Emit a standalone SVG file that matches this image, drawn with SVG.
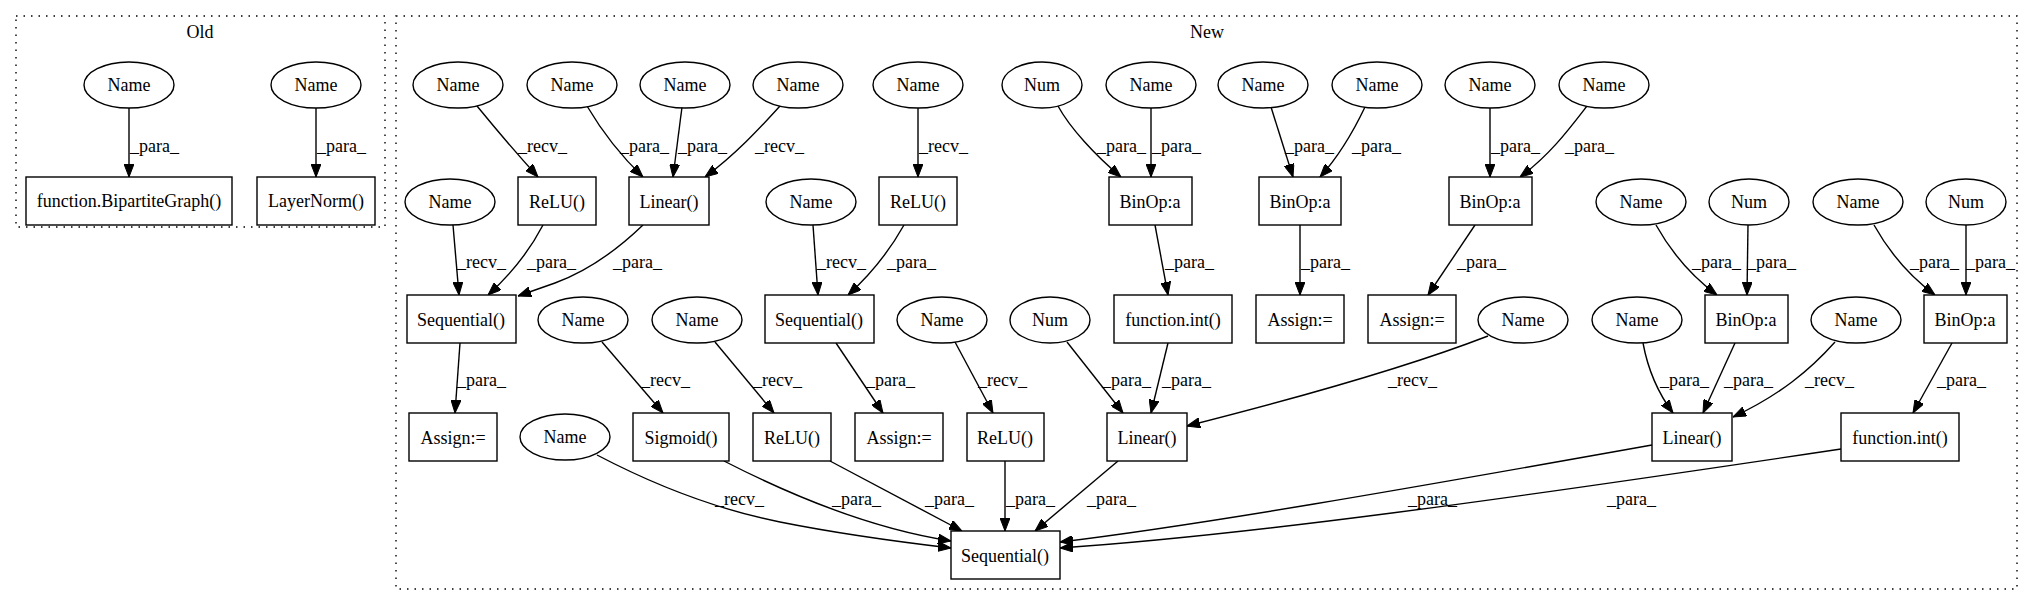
<svg xmlns="http://www.w3.org/2000/svg" width="2033" height="606" viewBox="0 0 2033 606" font-family="'Liberation Serif','Times New Roman','DejaVu Serif',serif">
<defs>
<marker id="ah" viewBox="0 0 13 10" refX="13" refY="5" markerWidth="13" markerHeight="10" markerUnits="userSpaceOnUse" orient="auto">
<path d="M0,0 L13,5 L0,10 z" fill="#000" stroke="#000" stroke-width="1"/>
</marker>
</defs>
<style>
text{font-family:'Liberation Serif','Times New Roman','DejaVu Serif',serif;font-size:18px;fill:#000}
.n text{text-anchor:middle}
.n ellipse,.n rect{fill:#fff;stroke:#000;stroke-width:1.4}
.cl{fill:none;stroke:#000;stroke-width:1.4;stroke-dasharray:1.5,6}
.e path{fill:none;stroke:#000;stroke-width:1.4;marker-end:url(#ah)}
.e text{text-anchor:start}
.ct{text-anchor:middle}
</style>
<rect width="2033" height="606" fill="#fff"/>
<g id="cluster_old"><rect class="cl" x="16" y="16" width="369" height="211"/><text class="ct" x="200" y="38">Old</text></g>
<g id="cluster_new"><rect class="cl" x="396" y="16" width="1621" height="573"/><text class="ct" x="1207" y="38">New</text></g>

<g id="edges" class="e">
<path d="M129,108 L129,177"/><text x="130" y="152">_para_</text>
<path d="M316,108 L316,177"/><text x="317" y="152">_para_</text>

<path d="M477,106 C495,128 518,155 538,177"/><text x="518" y="152">_recv_</text>
<path d="M587,106 C600,128 620,155 643,177"/><text x="620" y="152">_para_</text>
<path d="M682,107 L673,177"/><text x="678" y="152">_para_</text>
<path d="M780,106 C760,128 735,155 705,177"/><text x="755" y="152">_recv_</text>
<path d="M918,108 L918,177"/><text x="919" y="152">_recv_</text>
<path d="M1058,106 C1070,128 1095,155 1121,177"/><text x="1097" y="152">_para_</text>
<path d="M1151,108 L1151,177"/><text x="1152" y="152">_para_</text>
<path d="M1271,107 L1293,177"/><text x="1285" y="152">_para_</text>
<path d="M1365,107 C1355,128 1340,155 1320,177"/><text x="1352" y="152">_para_</text>
<path d="M1490,108 L1490,177"/><text x="1491" y="152">_para_</text>
<path d="M1587,106 C1570,128 1550,155 1520,177"/><text x="1565" y="152">_para_</text>

<path d="M453,225 L459,295"/><text x="457" y="268">_recv_</text>
<path d="M543,225 C530,250 510,275 488,295"/><text x="527" y="268">_para_</text>
<path d="M643,225 C615,252 585,272 555,283 L518,296"/><text x="613" y="268">_para_</text>
<path d="M813,225 L818,295"/><text x="817" y="268">_recv_</text>
<path d="M904,225 C890,250 870,275 848,295"/><text x="887" y="268">_para_</text>
<path d="M1155,225 L1168,295"/><text x="1165" y="268">_para_</text>
<path d="M1300,225 L1300,295"/><text x="1301" y="268">_para_</text>
<path d="M1475,225 L1428,295"/><text x="1457" y="268">_para_</text>
<path d="M1656,225 C1670,250 1690,275 1717,295"/><text x="1692" y="268">_para_</text>
<path d="M1748,225 L1747,295"/><text x="1747" y="268">_para_</text>
<path d="M1874,225 C1888,250 1908,275 1935,295"/><text x="1910" y="268">_para_</text>
<path d="M1966,225 L1966,295"/><text x="1966" y="268">_para_</text>

<path d="M460,343 L455,413"/><text x="457" y="386">_para_</text>
<path d="M602,342 L663,413"/><text x="641" y="386">_recv_</text>
<path d="M715,342 L774,413"/><text x="753" y="386">_recv_</text>
<path d="M836,343 L883,413"/><text x="866" y="386">_para_</text>
<path d="M955,342 L993,413"/><text x="978" y="386">_recv_</text>
<path d="M1067,342 L1123,413"/><text x="1102" y="386">_para_</text>
<path d="M1168,343 L1151,413"/><text x="1162" y="386">_para_</text>
<path d="M1488,336 C1400,370 1270,405 1187,426"/><text x="1388" y="386">_recv_</text>
<path d="M1643,343 C1648,370 1658,393 1673,413"/><text x="1660" y="386">_para_</text>
<path d="M1735,343 L1703,413"/><text x="1724" y="386">_para_</text>
<path d="M1835,342 C1810,370 1780,395 1733,417"/><text x="1805" y="386">_recv_</text>
<path d="M1952,343 L1913,413"/><text x="1937" y="386">_para_</text>

<path d="M597,455 C660,488 720,510 780,522 C840,534 900,542 951,548"/><text x="715" y="505">_recv_</text>
<path d="M724,461 C800,500 880,530 951,541"/><text x="832" y="505">_para_</text>
<path d="M830,461 L962,531"/><text x="925" y="505">_para_</text>
<path d="M1005,461 L1005,531"/><text x="1006" y="505">_para_</text>
<path d="M1118,461 L1035,531"/><text x="1087" y="505">_para_</text>
<path d="M1652,445 C1400,490 1200,525 1060,542"/><text x="1408" y="505">_para_</text>
<path d="M1841,449 C1500,500 1250,535 1060,548"/><text x="1607" y="505">_para_</text>
</g>

<g id="o_name1" class="n"><ellipse cx="129" cy="85" rx="45" ry="23"/><text x="129" y="91">Name</text></g>
<g id="o_name2" class="n"><ellipse cx="316" cy="85" rx="45" ry="23"/><text x="316" y="91">Name</text></g>
<g id="o_bipartite" class="n"><rect x="26" y="177" width="206" height="48"/><text x="129" y="207">function.BipartiteGraph()</text></g>
<g id="o_layernorm" class="n"><rect x="257" y="177" width="118" height="48"/><text x="316" y="207">LayerNorm()</text></g>

<g id="n_r1_1" class="n"><ellipse cx="458" cy="85" rx="45" ry="23"/><text x="458" y="91">Name</text></g>
<g id="n_r1_2" class="n"><ellipse cx="572" cy="85" rx="45" ry="23"/><text x="572" y="91">Name</text></g>
<g id="n_r1_3" class="n"><ellipse cx="685" cy="85" rx="45" ry="23"/><text x="685" y="91">Name</text></g>
<g id="n_r1_4" class="n"><ellipse cx="798" cy="85" rx="45" ry="23"/><text x="798" y="91">Name</text></g>
<g id="n_r1_5" class="n"><ellipse cx="918" cy="85" rx="45" ry="23"/><text x="918" y="91">Name</text></g>
<g id="n_r1_6" class="n"><ellipse cx="1042" cy="85" rx="40" ry="23"/><text x="1042" y="91">Num</text></g>
<g id="n_r1_7" class="n"><ellipse cx="1151" cy="85" rx="45" ry="23"/><text x="1151" y="91">Name</text></g>
<g id="n_r1_8" class="n"><ellipse cx="1263" cy="85" rx="45" ry="23"/><text x="1263" y="91">Name</text></g>
<g id="n_r1_9" class="n"><ellipse cx="1377" cy="85" rx="45" ry="23"/><text x="1377" y="91">Name</text></g>
<g id="n_r1_10" class="n"><ellipse cx="1490" cy="85" rx="45" ry="23"/><text x="1490" y="91">Name</text></g>
<g id="n_r1_11" class="n"><ellipse cx="1604" cy="85" rx="45" ry="23"/><text x="1604" y="91">Name</text></g>

<g id="n_r2_name1" class="n"><ellipse cx="450" cy="202" rx="45" ry="23"/><text x="450" y="208">Name</text></g>
<g id="n_relu1" class="n"><rect x="518" y="177" width="78" height="48"/><text x="557" y="208">ReLU()</text></g>
<g id="n_linear1" class="n"><rect x="629" y="177" width="80" height="48"/><text x="669" y="208">Linear()</text></g>
<g id="n_r2_name2" class="n"><ellipse cx="811" cy="202" rx="45" ry="23"/><text x="811" y="208">Name</text></g>
<g id="n_relu2" class="n"><rect x="879" y="177" width="78" height="48"/><text x="918" y="208">ReLU()</text></g>
<g id="n_binop1" class="n"><rect x="1109" y="177" width="83" height="48"/><text x="1150" y="208">BinOp:a</text></g>
<g id="n_binop2" class="n"><rect x="1259" y="177" width="82" height="48"/><text x="1300" y="208">BinOp:a</text></g>
<g id="n_binop3" class="n"><rect x="1449" y="177" width="83" height="48"/><text x="1490" y="208">BinOp:a</text></g>
<g id="n_r2_name3" class="n"><ellipse cx="1641" cy="202" rx="45" ry="23"/><text x="1641" y="208">Name</text></g>
<g id="n_r2_num1" class="n"><ellipse cx="1749" cy="202" rx="40" ry="23"/><text x="1749" y="208">Num</text></g>
<g id="n_r2_name4" class="n"><ellipse cx="1858" cy="202" rx="45" ry="23"/><text x="1858" y="208">Name</text></g>
<g id="n_r2_num2" class="n"><ellipse cx="1966" cy="202" rx="40" ry="23"/><text x="1966" y="208">Num</text></g>

<g id="n_seq1" class="n"><rect x="407" y="295" width="109" height="48"/><text x="461" y="326">Sequential()</text></g>
<g id="n_r3_name1" class="n"><ellipse cx="583" cy="320" rx="45" ry="23"/><text x="583" y="326">Name</text></g>
<g id="n_r3_name2" class="n"><ellipse cx="697" cy="320" rx="45" ry="23"/><text x="697" y="326">Name</text></g>
<g id="n_seq2" class="n"><rect x="765" y="295" width="109" height="48"/><text x="819" y="326">Sequential()</text></g>
<g id="n_r3_name3" class="n"><ellipse cx="942" cy="320" rx="45" ry="23"/><text x="942" y="326">Name</text></g>
<g id="n_r3_num" class="n"><ellipse cx="1050" cy="320" rx="40" ry="23"/><text x="1050" y="326">Num</text></g>
<g id="n_int1" class="n"><rect x="1114" y="295" width="118" height="48"/><text x="1173" y="326">function.int()</text></g>
<g id="n_assign3" class="n"><rect x="1256" y="295" width="88" height="48"/><text x="1300" y="326">Assign:=</text></g>
<g id="n_assign4" class="n"><rect x="1368" y="295" width="88" height="48"/><text x="1412" y="326">Assign:=</text></g>
<g id="n_r3_name4" class="n"><ellipse cx="1523" cy="320" rx="45" ry="23"/><text x="1523" y="326">Name</text></g>
<g id="n_r3_name5" class="n"><ellipse cx="1637" cy="320" rx="45" ry="23"/><text x="1637" y="326">Name</text></g>
<g id="n_binop4" class="n"><rect x="1705" y="295" width="83" height="48"/><text x="1746" y="326">BinOp:a</text></g>
<g id="n_r3_name6" class="n"><ellipse cx="1856" cy="320" rx="45" ry="23"/><text x="1856" y="326">Name</text></g>
<g id="n_binop5" class="n"><rect x="1924" y="295" width="83" height="48"/><text x="1965" y="326">BinOp:a</text></g>

<g id="n_assign1" class="n"><rect x="409" y="413" width="88" height="48"/><text x="453" y="444">Assign:=</text></g>
<g id="n_r4_name" class="n"><ellipse cx="565" cy="437" rx="45" ry="23"/><text x="565" y="443">Name</text></g>
<g id="n_sigmoid" class="n"><rect x="633" y="413" width="96" height="48"/><text x="681" y="444">Sigmoid()</text></g>
<g id="n_relu3" class="n"><rect x="753" y="413" width="78" height="48"/><text x="792" y="444">ReLU()</text></g>
<g id="n_assign2" class="n"><rect x="855" y="413" width="88" height="48"/><text x="899" y="444">Assign:=</text></g>
<g id="n_relu4" class="n"><rect x="967" y="413" width="77" height="48"/><text x="1005" y="444">ReLU()</text></g>
<g id="n_linear2" class="n"><rect x="1107" y="413" width="80" height="48"/><text x="1147" y="444">Linear()</text></g>
<g id="n_linear3" class="n"><rect x="1652" y="413" width="80" height="48"/><text x="1692" y="444">Linear()</text></g>
<g id="n_int2" class="n"><rect x="1841" y="413" width="118" height="48"/><text x="1900" y="444">function.int()</text></g>

<g id="n_seq_final" class="n"><rect x="951" y="531" width="109" height="48"/><text x="1005" y="562">Sequential()</text></g>
</svg>
